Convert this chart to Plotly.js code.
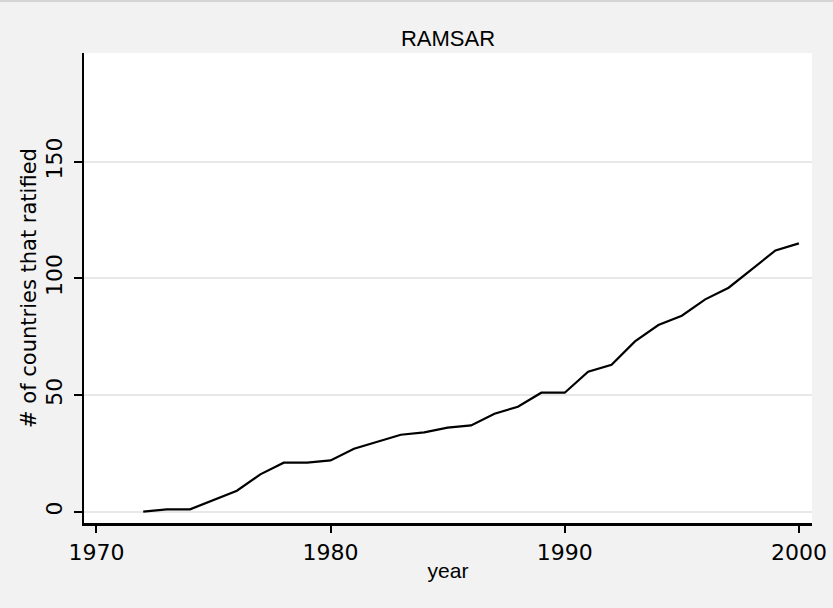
<!DOCTYPE html>
<html>
<head>
<meta charset="utf-8">
<script src="https://cdn.plot.ly/plotly-3.0.1.min.js"></script>
<style>html,body{margin:0;padding:0;background:#f2f2f2;}#chart{width:833px;height:608px;}</style>
</head>
<body>
<div id="chart"></div>
<script>
const years = [1972,1973,1974,1975,1976,1977,1978,1979,1980,1981,1982,1983,1984,1985,1986,1987,1988,1989,1990,1991,1992,1993,1994,1995,1996,1997,1998,1999,2000];
const ratified = [0,1,1,5,9,16,21,21,22,27,30,33,34,36,37,42,45,51,51,60,63,73,80,84,91,96,104,112,115];
const xTicks = [1970,1980,1990,2000];
const yTicks = [0,50,100,150];
const chartTitle = 'RAMSAR';
const xTitle = 'year';
const yTitle = '# of countries that ratified';

const trace = {
  x: years, y: ratified, type: 'scatter', mode: 'lines',
  line: {color: '#000000', width: 2.2}, hoverinfo: 'x+y'
};

const layout = {
  width: 833, height: 608,
  paper_bgcolor: '#f2f2f2', plot_bgcolor: '#ffffff',
  margin: {l: 84, r: 21, t: 53, b: 85, pad: 0},
  showlegend: false,
  title: {text: chartTitle, font: {family: 'Liberation Sans, Arial, sans-serif', size: 22, color: '#000'},
          x: 0.5, xref: 'paper', y: 1 - 38/608, yref: 'container', yanchor: 'middle'},
  shapes: [{type: 'line', xref: 'paper', yref: 'paper', x0: -84/728, x1: 749/728, y0: 522/470, y1: 522/470,
            line: {color: '#d4d4d4', width: 2}, layer: 'above'}],
  xaxis: {
    range: [1969.47, 2000.56], tickvals: xTicks, ticktext: xTicks.map(String),
    showgrid: false, zeroline: false, showline: true, linecolor: '#000', linewidth: 2.5,
    ticks: 'outside', ticklen: 7, tickwidth: 2, tickcolor: '#000',
    tickfont: {family: 'DejaVu Sans, sans-serif', size: 22, color: '#000'},
    ticklabelstandoff: 1,
    title: {text: xTitle, font: {family: 'Liberation Sans, Arial, sans-serif', size: 21, color: '#000'}, standoff: 0},
    automargin: false
  },
  yaxis: {
    range: [-4.84, 196.6], tickvals: yTicks, ticktext: yTicks.map(String),
    showgrid: true, gridcolor: '#e8e8e8', gridwidth: 2,
    zeroline: false, showline: true, linecolor: '#000', linewidth: 2.5,
    ticks: 'outside', ticklen: 8, tickwidth: 2, tickcolor: '#000', tickangle: -90,
    tickfont: {family: 'DejaVu Sans, sans-serif', size: 22, color: '#000'},
    ticklabelstandoff: 3,
    title: {text: yTitle, font: {family: 'DejaVu Sans, sans-serif', size: 21, color: '#000'}, standoff: 0},
    automargin: false
  }
};

Plotly.newPlot('chart', [trace], layout, {displayModeBar: false, staticPlot: true});
</script>
</body>
</html>
